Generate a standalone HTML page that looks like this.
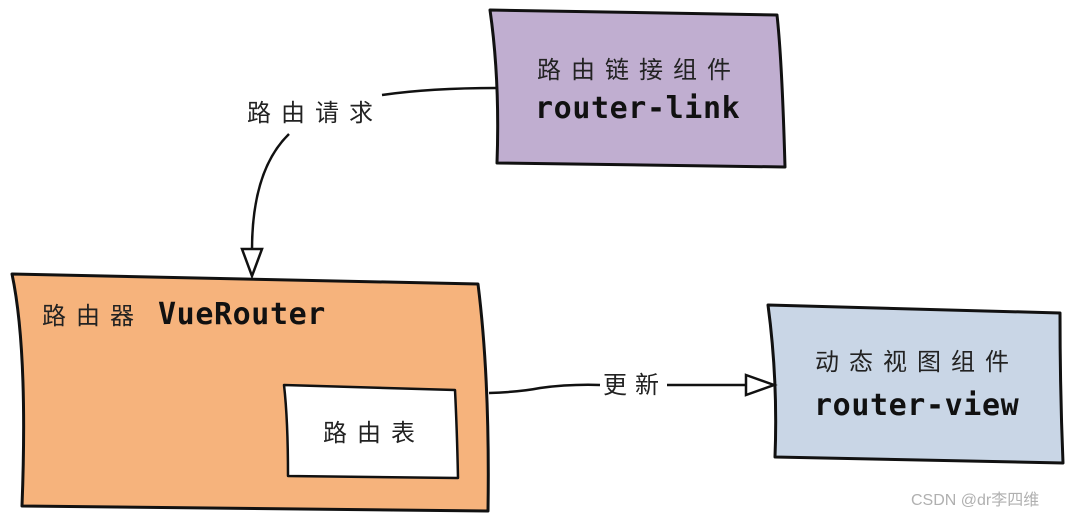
<!DOCTYPE html>
<html><head><meta charset="utf-8"><style>
html,body{margin:0;padding:0;background:#fff;}
svg{display:block;}
.cjk{font-family:"Liberation Sans","Noto Sans CJK SC",sans-serif;font-size:24px;fill:#222;letter-spacing:10px;}
.mono{font-family:"DejaVu Sans Mono","Liberation Mono",monospace;font-weight:bold;font-size:30px;fill:#111;letter-spacing:0.6px;}
</style></head><body>
<svg width="1071" height="516" viewBox="0 0 1071 516" xmlns="http://www.w3.org/2000/svg">
<g stroke="#111" stroke-width="3" stroke-linejoin="round">
<path d="M490,10 L777,15 Q782,60 785,167 L497,163 Q500,80 490,10 Z" fill="#c0aed0"/>
<path d="M12,274 L478,284 Q490,380 488,511 L22,506 Q28,350 12,274 Z" fill="#f6b37c"/>
<path d="M284,385 L455,390 Q457,430 458,478 L288,476 Q288,420 284,385 Z" fill="#fff" stroke-width="2.5"/>
<path d="M768,305 L1060,313 Q1060,390 1063,463 L775,457 Q778,380 768,305 Z" fill="#c9d6e6"/>
</g>
<g fill="none" stroke="#111" stroke-width="2.5">
<path d="M497,88 Q430,88 382,95"/>
<path d="M289,134 Q252,170 252,250"/>
<path d="M489,393 Q520,392 540,388 Q570,384 600,385"/>
<path d="M667,385 L747,385"/>
</g>
<path d="M242,249 L262,249 L252,276 Z" fill="#fff" stroke="#111" stroke-width="2.5"/>
<path d="M746,375 L774,385 L746,395 Z" fill="#fff" stroke="#111" stroke-width="2.5"/>
<text x="247" y="121" class="cjk">路由请求</text>
<text x="603" y="393" class="cjk" style="letter-spacing:8px">更新</text>
<text x="537" y="78" class="cjk">路由链接组件</text>
<text x="535" y="118" class="mono">router-link</text>
<text x="42" y="324" class="cjk">路由器</text>
<text x="158" y="324" class="mono">VueRouter</text>
<text x="323" y="441" class="cjk">路由表</text>
<text x="815" y="370" class="cjk">动态视图组件</text>
<text x="814" y="415" class="mono">router-view</text>
<text x="911" y="505" style="font-family:'Liberation Sans','Noto Sans CJK SC',sans-serif;font-size:16px;fill:#b0b0b0">CSDN @dr李四维</text>
</svg>
</body></html>
